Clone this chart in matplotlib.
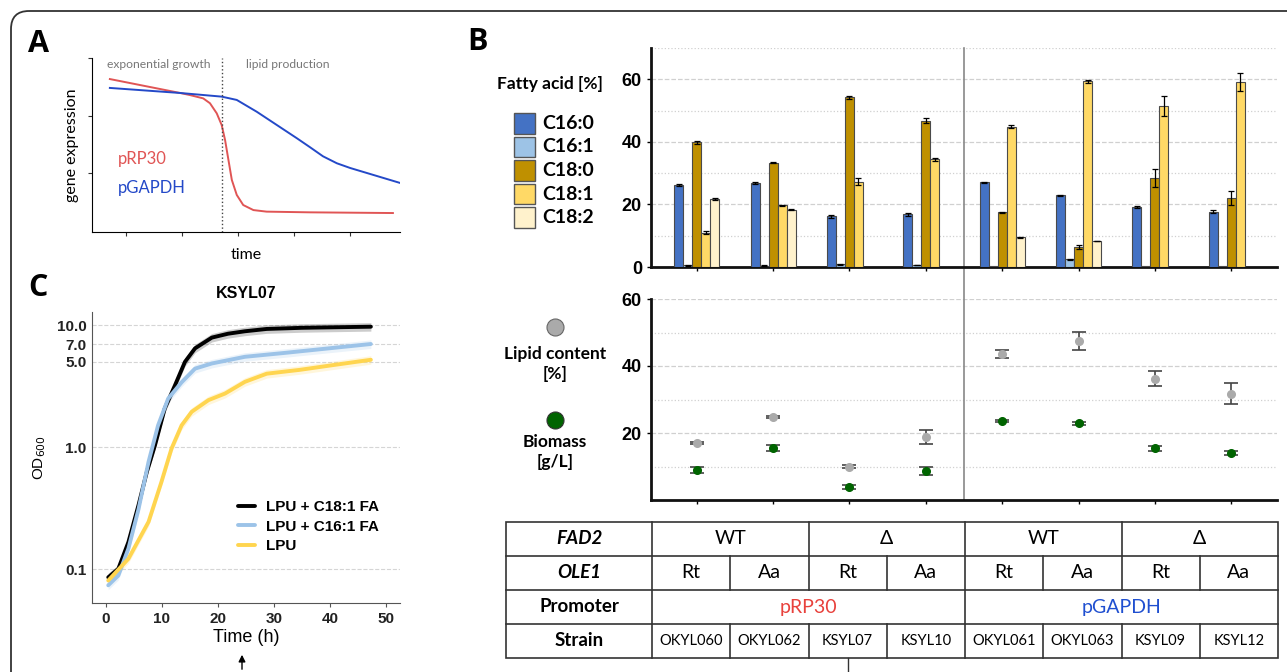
import numpy as np
import matplotlib
matplotlib.use("Agg")
import matplotlib.pyplot as plt
from matplotlib.patches import FancyBboxPatch, Rectangle

plt.rcParams['font.family'] = ['Lato', 'DejaVu Sans']

# panel A: schematic expression curves (axes units 0..10)
a_red_x = [0.58, 2.86, 3.18, 3.61, 3.83, 4.05, 4.21, 4.32, 4.43, 4.54, 4.70, 4.91, 5.24, 5.67, 7.08, 9.77]
a_red_y = [8.79, 7.99, 7.87, 7.68, 7.40, 6.82, 6.15, 5.29, 4.14, 2.99, 2.13, 1.55, 1.26, 1.17, 1.13, 1.09]
a_blue_x = [0.58, 2.86, 4.21, 4.70, 5.35, 6.00, 6.65, 7.08, 7.50, 7.95, 8.38, 10.0]
a_blue_y = [8.28, 7.99, 7.78, 7.59, 6.91, 6.15, 5.39, 4.87, 4.35, 3.95, 3.68, 2.82]
a_switch = 4.22

# panel B: fatty acid composition per strain
strains = ["OKYL060", "OKYL062", "KSYL07", "KSYL10", "OKYL061", "OKYL063", "KSYL09", "KSYL12"]
fa_names = ["C16:0", "C16:1", "C18:0", "C18:1", "C18:2"]
fa_colors = ["#4472C4", "#9DC3E6", "#BF9000", "#FFD966", "#FFF2CC"]
c160 = [26.3, 26.8, 16.2, 16.9, 27.1, 22.9, 19.2, 17.7]
c161 = [0.5, 0.4, 0.8, 0.6, 0.2, 2.5, 0.2, 0.2]
c180 = [39.8, 33.4, 54.2, 46.8, 17.5, 6.4, 28.5, 22.0]
c181 = [11.0, 19.7, 27.3, 34.4, 44.8, 59.3, 51.6, 59.0]
c182 = [21.7, 18.3, 0, 0, 9.5, 8.3, 0, 0]
c160_err = [0.3, 0.3, 0.5, 0.5, 0.2, 0.2, 0.2, 0.4]
c161_err = [0.1, 0.1, 0.1, 0.1, 0, 0.2, 0, 0]
c180_err = [0.6, 0.3, 0.4, 0.9, 0.2, 0.5, 2.8, 2.3]
c181_err = [0.5, 0.2, 1.2, 0.5, 0.5, 0.4, 3.2, 2.9]
c182_err = [0.4, 0.2, 0, 0, 0.1, 0.1, 0, 0]

lipid = [17.0, 24.7, 10.0, 18.7, 43.6, 47.4, 36.2, 31.7]
lipid_err = [0.4, 0.3, 0.3, 2.1, 1.1, 2.7, 2.2, 3.1]
biomass = [9.0, 15.4, 4.0, 8.8, 23.7, 22.9, 15.4, 13.9]
biomass_err = [0.8, 0.9, 0.6, 1.2, 0.3, 0.5, 0.8, 0.6]

fad2 = ["WT", "\u0394", "WT", "\u0394"]
ole1 = ["Rt", "Aa", "Rt", "Aa", "Rt", "Aa", "Rt", "Aa"]
promoters = ["pRP30", "pGAPDH"]
promoter_colors = ["#E8413C", "#1F4FD0"]

# panel C: growth curves of KSYL07
t_c18 = [0.4, 2.2, 4.0, 5.8, 7.3, 8.75, 10.5, 12.3, 14.1, 15.9, 18.9, 21.8, 24.8, 28.7, 35, 41, 47.3]
od_c18 = [0.086, 0.101, 0.167, 0.335, 0.63, 1.04, 2.08, 3.2, 5.0, 6.45, 7.9, 8.5, 8.9, 9.3, 9.5, 9.6, 9.7]
t_c16 = [0.4, 2.2, 4.0, 5.8, 7.6, 9.3, 11.1, 13.5, 15.9, 18.9, 24.8, 31.6, 40.5, 47.3]
od_c16 = [0.074, 0.089, 0.148, 0.31, 0.76, 1.51, 2.5, 3.4, 4.4, 4.85, 5.5, 5.9, 6.5, 7.0]
t_lpu = [0.4, 4.0, 7.6, 9.9, 11.7, 13.5, 15.3, 18.3, 21.25, 24.8, 28.7, 34.6, 40.5, 47.3]
od_lpu = [0.081, 0.122, 0.245, 0.52, 0.975, 1.51, 1.95, 2.43, 2.75, 3.43, 4.0, 4.3, 4.7, 5.2]

W, H = 1287, 672
fig = plt.figure(figsize=(W / 100, H / 100), dpi=100)


def box(l, t, r, b):
    # pixel box -> figure fraction
    return [l / W, 1 - b / H, (r - l) / W, (b - t) / H]


# ---------- A ----------
axA = fig.add_axes(box(92, 58, 400, 232))
axA.plot(a_red_x, a_red_y, color="#E05555", lw=1.4)
axA.plot(a_blue_x, a_blue_y, color="#2449C8", lw=1.4)
axA.axvline(a_switch, color="#444", ls=":", lw=1)
axA.set_xlim(0, 10)
axA.set_ylim(0, 10)
axA.set_xticks([1.10, 2.92, 4.74, 6.56, 8.38])
axA.set_yticks([3.39, 6.67, 10])
axA.set_xticklabels([])
axA.set_yticklabels([])
axA.tick_params(length=3, color="#333")
for s in ["top", "right"]:
    axA.spines[s].set_visible(False)
axA.set_ylabel("gene expression", fontsize=11.5, labelpad=3)
axA.set_xlabel("time", fontsize=11.5, labelpad=5)
axA.text(0.5, 9.6, "exponential growth", color="#777", fontsize=8.7, va="center")
axA.text(5.0, 9.6, "lipid production", color="#777", fontsize=8.7, va="center")
axA.text(0.85, 4.2, "pRP30", color="#E05555", fontsize=12, va="center")
axA.text(0.85, 2.5, "pGAPDH", color="#2449C8", fontsize=12, va="center")

# ---------- C ----------
cfont = ['Liberation Sans', 'DejaVu Sans']
axC = fig.add_axes(box(92, 312, 400, 603))
series = [(t_c18, od_c18, "black", "LPU + C18:1 FA"),
          (t_c16, od_c16, "#9CC3E8", "LPU + C16:1 FA"),
          (t_lpu, od_lpu, "#FFD54F", "LPU")]
for t, od, col, lab in series:
    od = np.array(od)
    axC.fill_between(t, od * 0.92, od * 1.08, color=col, alpha=0.2, lw=0)
    axC.plot(t, od, color=col, lw=2.8, label=lab, solid_capstyle="round")
axC.set_yscale("log")
axC.set_ylim(0.053, 12.8)
axC.set_xlim(-2.5, 52.5)
axC.set_yticks([0.1, 1, 5, 7, 10])
axC.set_yticklabels(["0.1", "1.0", "5.0", "7.0", "10.0"])
axC.minorticks_off()
axC.set_xticks([0, 10, 20, 30, 40, 50])
axC.yaxis.grid(True, ls="--", color="#d5d5d5", lw=0.8)
axC.set_axisbelow(True)
for s in ["top", "right"]:
    axC.spines[s].set_visible(False)
for s in ["left", "bottom"]:
    axC.spines[s].set_color("#555")
axC.tick_params(axis="y", length=0, pad=4)
axC.tick_params(axis="x", length=3, color="#555")
for lbl in axC.get_xticklabels() + axC.get_yticklabels():
    lbl.set_family(cfont)
    lbl.set_fontweight("bold")
    lbl.set_fontsize(11)
    lbl.set_color("#222")
axC.set_title("KSYL07", family=cfont, fontweight="bold", fontsize=11.5, pad=10)
axC.set_xlabel("Time (h)", family=cfont, fontsize=13, labelpad=2)
axC.set_ylabel("OD$_{600}$", family=cfont, fontsize=11, labelpad=6)
axC.legend(loc="upper left", bbox_to_anchor=(0.43, 0.4), frameon=False,
           handlelength=1.1, labelspacing=0.35, handletextpad=0.7,
           prop={"family": cfont, "weight": "bold", "size": 11})

# ---------- B top ----------
x = np.arange(len(strains))
bw = 0.118
axB = fig.add_axes(box(651, 48, 1277, 267))
fa_vals = [c160, c161, c180, c181, c182]
fa_errs = [c160_err, c161_err, c180_err, c181_err, c182_err]
for j in range(5):
    xs = x + (j - 2) * bw
    axB.bar(xs, fa_vals[j], bw, color=fa_colors[j], edgecolor="#4a4a4a", lw=0.8, zorder=3)
    e = np.array(fa_errs[j])
    m = e > 0
    axB.errorbar(xs[m], np.array(fa_vals[j])[m], yerr=e[m], fmt="none", ecolor="black",
                 elinewidth=0.9, capsize=2.2, capthick=0.9, zorder=4)
axB.set_ylim(0, 70)
axB.set_xlim(-0.6, 7.6)
axB.set_yticks([0, 20, 40, 60])
axB.set_yticks([10, 30, 50, 70], minor=True)
axB.yaxis.grid(True, which="major", ls="--", color="#d0d0d0", lw=0.9)
axB.yaxis.grid(True, which="minor", ls=":", color="#d0d0d0", lw=0.9)
axB.set_axisbelow(True)
axB.set_xticks(x)
axB.set_xticklabels([])
axB.tick_params(axis="y", which="minor", length=0)
axB.tick_params(axis="y", length=3, width=1, labelsize=13)
axB.tick_params(axis="x", length=3, width=1)
for lbl in axB.get_yticklabels():
    lbl.set_family(cfont)
    lbl.set_fontweight("bold")
for s in ["top", "right"]:
    axB.spines[s].set_visible(False)
for s in ["left", "bottom"]:
    axB.spines[s].set_linewidth(2)
    axB.spines[s].set_color("#111")
axB.plot([3.5, 3.5], [-10.3, 70], color="#888", lw=1.2, clip_on=False, zorder=1)

# ---------- B middle ----------
axM = fig.add_axes(box(651, 299, 1277, 500), sharex=axB)
axM.errorbar(x, lipid, yerr=lipid_err, fmt="o", color="#AAAAAA", ms=5.5, ecolor="#444",
             elinewidth=1.2, capsize=5, capthick=1.2, zorder=3)
axM.errorbar(x, biomass, yerr=biomass_err, fmt="o", color="#006400", ms=5.5, ecolor="#444",
             elinewidth=1.2, capsize=5, capthick=1.2, zorder=3)
axM.set_ylim(0, 60)
axM.set_yticks([20, 40, 60])
axM.set_yticks([10, 30, 50], minor=True)
axM.yaxis.grid(True, which="major", ls="--", color="#d0d0d0", lw=0.9)
axM.yaxis.grid(True, which="minor", ls=":", color="#d0d0d0", lw=0.9)
axM.set_axisbelow(True)
axM.tick_params(axis="y", which="minor", length=0)
axM.tick_params(axis="y", length=3, width=1, labelsize=13)
axM.tick_params(axis="x", length=3, width=1, labelbottom=False)
for lbl in axM.get_yticklabels():
    lbl.set_family(cfont)
    lbl.set_fontweight("bold")
for s in ["top", "right"]:
    axM.spines[s].set_visible(False)
for s in ["left", "bottom"]:
    axM.spines[s].set_linewidth(2)
    axM.spines[s].set_color("#111")
axM.axvline(3.5, color="#888", lw=1.2, zorder=1)

# ---------- overlay: frame, labels, legends, table ----------
ov = fig.add_axes([0, 0, 1, 1], zorder=5)
ov.set_xlim(0, W)
ov.set_ylim(H, 0)
ov.axis("off")
ov.patch.set_alpha(0)
ov.add_patch(FancyBboxPatch((11, 11), 1400, 800, boxstyle="round,pad=0,rounding_size=18",
                            fill=False, ec="#333", lw=1.3))
for lab, (px, py) in zip("ABC", [(28, 44), (467, 42), (28, 288)]):
    ov.text(px, py, lab, fontsize=22, fontweight="bold", va="center", ha="left",
            family=['Open Sans', 'DejaVu Sans'])

# fatty acid legend
ov.text(550, 84, "Fatty acid [%]", fontsize=12.5, fontweight="bold", ha="center", va="center")
for i, (nm, col) in enumerate(zip(fa_names, fa_colors)):
    y0 = 113 + i * 23.5
    ov.add_patch(Rectangle((514, y0), 21, 20.5, fc=col, ec="#555", lw=1))
    ov.text(542, y0 + 10.5, nm, fontsize=14, fontweight="bold", va="center", ha="left")

# lipid / biomass legend
ov.scatter([555], [327], s=150, c="#AAAAAA", edgecolors="#666", linewidths=0.8)
ov.text(555, 364, "Lipid content\n[%]", fontsize=12.5, fontweight="bold", ha="center",
        va="center", linespacing=1.25)
ov.scatter([555], [420], s=150, c="#006400", edgecolors="#333", linewidths=0.8)
ov.text(555, 452, "Biomass\n[g/L]", fontsize=12.5, fontweight="bold", ha="center",
        va="center", linespacing=1.25)

# table
tl, tr, c0 = 506, 1278, 652
cw = (tr - c0) / 8
rows = [522, 556, 590, 624, 658]
lc = "#333"
ov.add_patch(Rectangle((tl, rows[0]), tr - tl, rows[-1] - rows[0], fill=False, ec=lc, lw=1.2))
for yy in rows[1:-1]:
    ov.plot([tl, tr], [yy, yy], color=lc, lw=1.2)
ov.plot([c0, c0], [rows[0], rows[-1]], color=lc, lw=1.2)
ov.plot([c0 + 4 * cw] * 2, [rows[0], rows[-1]], color=lc, lw=1.2)
for k in [2, 6]:
    xx = c0 + k * cw
    ov.plot([xx, xx], [rows[0], rows[2]], color=lc, lw=1.2)
    ov.plot([xx, xx], [rows[3], rows[4]], color=lc, lw=1.2)
for k in [1, 3, 5, 7]:
    xx = c0 + k * cw
    ov.plot([xx, xx], [rows[1], rows[2]], color=lc, lw=1.2)
    ov.plot([xx, xx], [rows[3], rows[4]], color=lc, lw=1.2)
hdr_x = (tl + c0) / 2
for i, (hdr, sty) in enumerate([("FAD2", "italic"), ("OLE1", "italic"),
                                ("Promoter", "normal"), ("Strain", "normal")]):
    ov.text(hdr_x, (rows[i] + rows[i + 1]) / 2, hdr, fontsize=13.5, fontweight="bold",
            fontstyle=sty, ha="center", va="center")
ymid = [(rows[i] + rows[i + 1]) / 2 for i in range(4)]
for k, g in enumerate(fad2):
    ov.text(c0 + (2 * k + 1) * cw, ymid[0], g, fontsize=14, ha="center", va="center")
for k, o in enumerate(ole1):
    ov.text(c0 + (k + 0.5) * cw, ymid[1], o, fontsize=14, ha="center", va="center")
for k, (p, pc) in enumerate(zip(promoters, promoter_colors)):
    ov.text(c0 + (4 * k + 2) * cw, ymid[2], p, fontsize=14, color=pc, ha="center", va="center")
for k, s in enumerate(strains):
    ov.text(c0 + (k + 0.5) * cw, ymid[3], s, fontsize=10.5, ha="center", va="center")

# connector lines
ov.plot([c0 + 2.5 * cw] * 2, [rows[-1], H], color=lc, lw=1)
ov.annotate("", xy=(242, 652), xytext=(242, H),
            arrowprops=dict(arrowstyle="-|>", color="black", lw=1, mutation_scale=10))

fig.savefig("out.png", dpi=100)
